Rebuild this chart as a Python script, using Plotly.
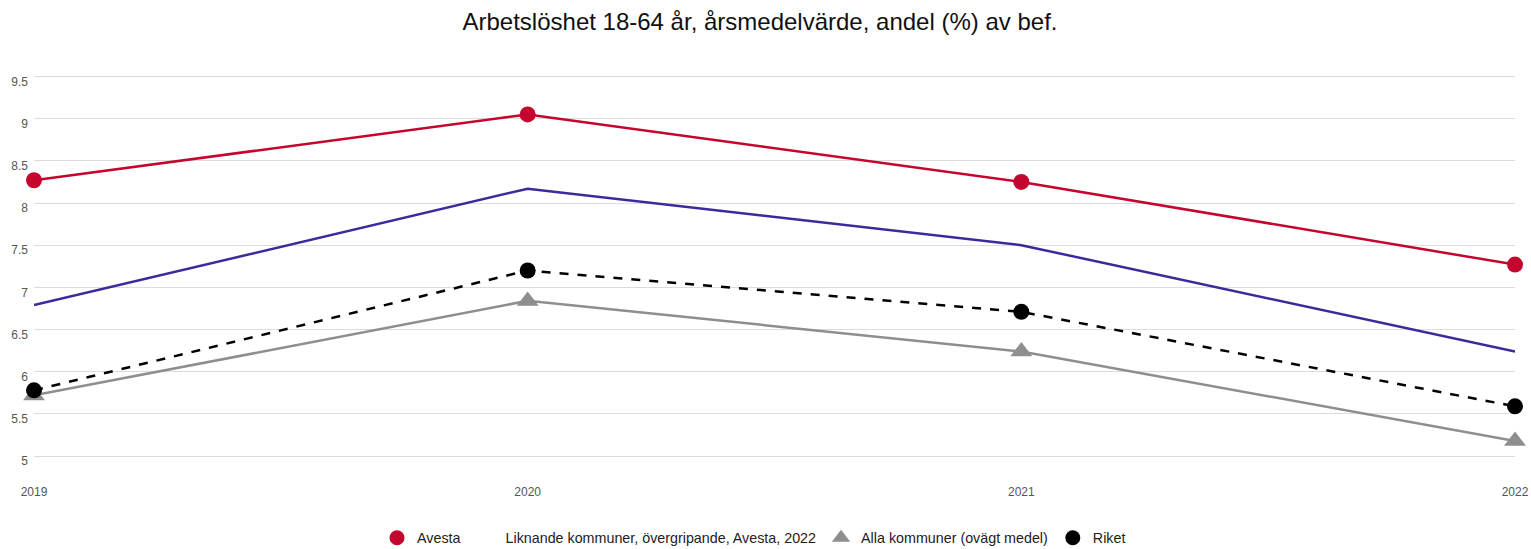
import plotly.graph_objects as go

years = [2019, 2020, 2021, 2022]
year_labels = ["2019", "2020", "2021", "2022"]
avesta = [8.27, 9.05, 8.25, 7.27]
liknande = [6.79, 8.17, 7.50, 6.24]
alla = [5.72, 6.84, 6.24, 5.18]
riket = [5.78, 7.20, 6.71, 5.59]

names = ["Avesta", "Liknande kommuner, övergripande, Avesta, 2022",
         "Alla kommuner (ovägt medel)", "Riket"]
y_ticks = [5, 5.5, 6, 6.5, 7, 7.5, 8, 8.5, 9, 9.5]
y_tick_text = ["5", "5.5", "6", "6.5", "7", "7.5", "8", "8.5", "9", "9.5"]

red = "#C4052E"
purple = "#3A2A9C"
grey = "#8E8E8E"
black = "#000000"

fig = go.Figure()

fig.add_trace(go.Scatter(x=years, y=alla, mode="lines+markers", showlegend=False,
                         line=dict(color=grey, width=2.5),
                         marker=dict(symbol="triangle-up", size=19, color=grey),
                         cliponaxis=False))
fig.add_trace(go.Scatter(x=years, y=riket, mode="lines+markers", showlegend=False,
                         line=dict(color=black, width=2.5, dash="dash"),
                         marker=dict(symbol="circle", size=16, color=black),
                         cliponaxis=False))
fig.add_trace(go.Scatter(x=years, y=liknande, mode="lines", showlegend=False,
                         line=dict(color=purple, width=2.5),
                         cliponaxis=False))
fig.add_trace(go.Scatter(x=years, y=avesta, mode="lines+markers", showlegend=False,
                         line=dict(color=red, width=2.5),
                         marker=dict(symbol="circle", size=16, color=red),
                         cliponaxis=False))

# legend entries (marker only)
fig.add_trace(go.Scatter(x=[None], y=[None], mode="markers", name=names[0],
                         marker=dict(symbol="circle", size=15, color=red)))
fig.add_trace(go.Scatter(x=[None], y=[None], mode="markers", name=names[1],
                         marker=dict(symbol="circle", size=15, color="rgba(0,0,0,0)")))
fig.add_trace(go.Scatter(x=[None], y=[None], mode="markers", name=names[2],
                         marker=dict(symbol="triangle-up", size=17, color=grey)))
fig.add_trace(go.Scatter(x=[None], y=[None], mode="markers", name=names[3],
                         marker=dict(symbol="circle", size=15, color=black)))

fig.update_layout(
    width=1531, height=549,
    paper_bgcolor="white", plot_bgcolor="white",
    margin=dict(l=34, r=16, t=68, b=76, autoexpand=False),
    font=dict(family="Liberation Sans, Arial, sans-serif", color="#222"),
    title=dict(text="Arbetslöshet 18-64 år, årsmedelvärde, andel (%) av bef.",
               xref="container", x=0.4964, xanchor="center",
               yref="container", y=0.96, yanchor="middle",
               font=dict(size=24, color="#111")),
    xaxis=dict(range=[2019, 2022], tickvals=years, ticktext=year_labels,
               showgrid=False, zeroline=False, showline=False, automargin=False,
               tickfont=dict(size=12, color="#555"), ticklabelstandoff=10),
    yaxis=dict(range=[4.8, 9.6], tickvals=y_ticks, ticktext=y_tick_text,
               showgrid=True, gridcolor="#DCDCDC", gridwidth=1, automargin=False,
               zeroline=False, showline=False,
               tickfont=dict(size=12, color="#555"), ticklabelshift=5,
               ticklabelstandoff=5),
    legend=dict(orientation="h", xref="container", x=0.4925, xanchor="center",
                yref="container", y=0.02, yanchor="middle",
                font=dict(size=14.3, color="#222"), itemsizing="trace"),
)

fig.write_html(
    "out.html",
    config={"displayModeBar": False},
    post_script="document.body.style.margin='0';document.body.style.overflow='hidden';",
)
